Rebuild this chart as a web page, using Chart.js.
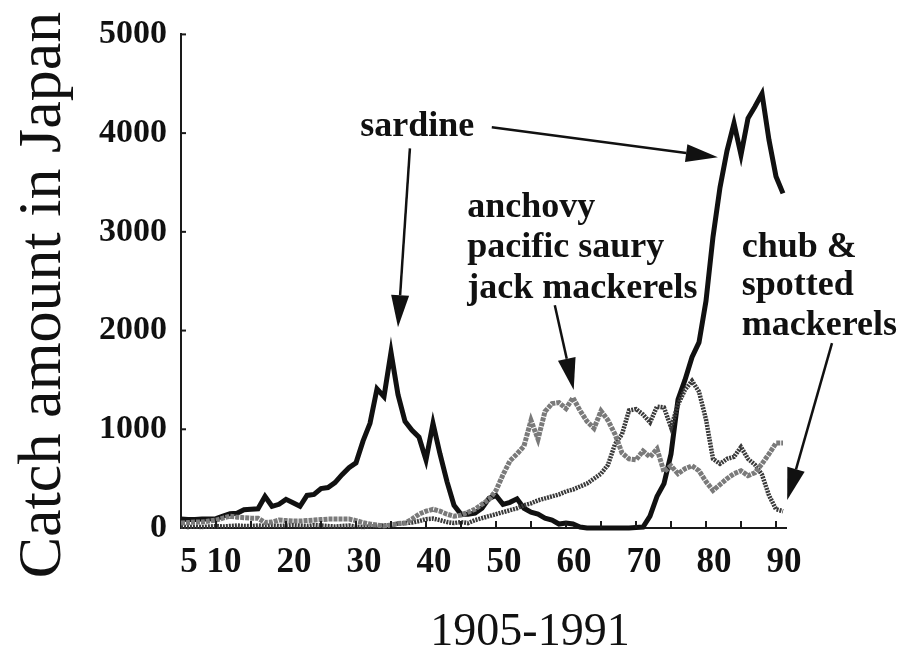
<!DOCTYPE html>
<html><head><meta charset="utf-8">
<script src="https://cdn.jsdelivr.net/npm/chart.js@4.4.1/dist/chart.umd.min.js"></script>
<style>html,body{margin:0;padding:0;background:#fff;}#wrap{width:905px;height:652px;}</style>
</head><body><div id="wrap"><canvas id="c" width="905" height="652"></canvas></div>
<script>
// ---- data (thousand tons), years 1905..1991 ----
const firstYear = 1905;
const sardine = [
  90, 85, 85, 90, 90, 95, 120, 145, 150, 185,      // 1905-1914
  190, 195, 320, 220, 240, 290, 255, 220, 330, 340, // 1915-1924
  400, 410, 460, 540, 610, 660, 880, 1060, 1410, 1330, // 1925-1934
  1780, 1350, 1080, 990, 920, 690, 1060, 750, 470, 230, // 1935-1944
  140, 140, 150, 200, 300, 330, 240, 260, 295, 200,  // 1945-1954
  160, 140, 100, 80, 40, 50, 40, 10, 0, 0,           // 1955-1964
  0, 0, 0, 0, 0, 5, 10, 120, 320, 450,               // 1965-1974
  750, 1300, 1500, 1730, 1880, 2300, 2950, 3450, 3820, 4100, // 1975-1984
  3780, 4150, 4270, 4400, 3930, 3560, 3390           // 1985-1991
];
const anchovySauryJack = [
  50, 55, 60, 60, 70, 80, 100, 120, 110, 105,
  100, 100, 55, 60, 80, 75, 70, 70, 75, 80,
  85, 90, 90, 90, 90, 75, 55, 40, 30, 20,
  30, 45, 50, 90, 140, 170, 190, 170, 140, 120,
  130, 160, 190, 240, 290, 380, 540, 680, 750, 830,
  1090, 900, 1180, 1260, 1270, 1210, 1320, 1190, 1080, 1010,
  1185, 1090, 950, 760, 700, 690, 780, 720, 800, 570,
  630, 550, 600, 630, 580, 470, 380, 440, 500, 550,
  580, 530, 560, 650, 750, 860, 860
];
const chubSpotted = [
  15, 10, 15, 10, 15, 20, 15, 20, 25, 20,
  20, 25, 20, 25, 20, 25, 30, 25, 20, 30,
  25, 20, 15, 20, 25, 15, 10, 15, 20, 25,
  30, 45, 50, 55, 70, 90, 95, 80, 60, 50,
  60, 50, 80, 100, 120, 140, 160, 180, 200, 230,
  250, 280, 300, 320, 340, 370, 390, 420, 450, 500,
  550, 640, 850, 950, 1190, 1205, 1150, 1070, 1230, 1220,
  1020, 1250, 1400, 1490, 1380, 1100, 700, 650, 700, 720,
  820, 700, 640, 540, 330, 190, 170
];
const xTickValues = [1905, 1910, 1915, 1920, 1925, 1930, 1935, 1940, 1945, 1950, 1955, 1960, 1965, 1970, 1975, 1980, 1985, 1990];
const xTickLabels = {1905:'5', 1910:'10', 1920:'20', 1930:'30', 1940:'40', 1950:'50', 1960:'60', 1970:'70', 1980:'80', 1990:'90'};
const yTickValues = [0, 1000, 2000, 3000, 4000, 5000];
const yTitle = 'Catch amount in Japan';
const xTitle = '1905-1991';

// annotation text (anchored in data units: year, value = left/baseline)
const annotationTexts = [
  {text: 'sardine', year: 1930.6, value: 3968},
  {text: 'anchovy', year: 1945.9, value: 3148},
  {text: 'pacific saury', year: 1945.9, value: 2743},
  {text: 'jack mackerels', year: 1945.9, value: 2328},
  {text: 'chub &', year: 1985.1, value: 2743},
  {text: 'spotted', year: 1985.1, value: 2358},
  {text: 'mackerels', year: 1985.1, value: 1953}
];
const annotationArrows = [
  {from: [1937.7, 3846], to: [1936.0, 2034]},
  {from: [1949.4, 4059], to: [1981.7, 3755]},
  {from: [1958.4, 2257], to: [1961.1, 1397]},
  {from: [1998.0, 1872], to: [1991.6, 283]}
];

const toPoints = arr => arr.map((v, i) => ({x: firstYear + i, y: v}));
const SERIF = "'Liberation Serif', 'Times New Roman', serif";

const decorPlugin = {
  id: 'decor',
  afterDraw(chart) {
    const ctx = chart.ctx, xs = chart.scales.x, ys = chart.scales.y, ca = chart.chartArea;
    ctx.save();
    // inside tick marks
    ctx.strokeStyle = '#1a1a1a'; ctx.lineWidth = 2;
    xTickValues.forEach(v => {
      if (v <= firstYear) return;
      const px = xs.getPixelForValue(v);
      ctx.beginPath(); ctx.moveTo(px, ca.bottom); ctx.lineTo(px, ca.bottom - 7); ctx.stroke();
    });
    yTickValues.forEach(v => {
      if (v === 0) return;
      const py = ys.getPixelForValue(v);
      ctx.beginPath(); ctx.moveTo(ca.left, py); ctx.lineTo(ca.left + 5, py); ctx.stroke();
    });
    // axis titles
    ctx.fillStyle = '#111';
    ctx.font = '62px ' + SERIF;
    ctx.textAlign = 'center'; ctx.textBaseline = 'alphabetic';
    ctx.save();
    ctx.translate(60, 295); ctx.rotate(-Math.PI / 2);
    ctx.fillText(yTitle, 0, 0);
    ctx.restore();
    ctx.font = '46px ' + SERIF;
    ctx.fillText(xTitle, 530, 645);
    // annotation texts
    ctx.font = 'bold 36px ' + SERIF;
    ctx.textAlign = 'left';
    annotationTexts.forEach(a => {
      ctx.fillText(a.text, xs.getPixelForValue(a.year), ys.getPixelForValue(a.value));
    });
    // arrows
    ctx.strokeStyle = '#111'; ctx.fillStyle = '#111'; ctx.lineWidth = 2.5;
    annotationArrows.forEach(a => {
      const x1 = xs.getPixelForValue(a.from[0]), y1 = ys.getPixelForValue(a.from[1]);
      const x2 = xs.getPixelForValue(a.to[0]), y2 = ys.getPixelForValue(a.to[1]);
      const ang = Math.atan2(y2 - y1, x2 - x1);
      const L = 32, W = 9;
      const bx = x2 - L * Math.cos(ang), by = y2 - L * Math.sin(ang);
      ctx.beginPath(); ctx.moveTo(x1, y1); ctx.lineTo(bx, by); ctx.stroke();
      ctx.beginPath();
      ctx.moveTo(x2, y2);
      ctx.lineTo(bx + W * Math.sin(ang), by - W * Math.cos(ang));
      ctx.lineTo(bx - W * Math.sin(ang), by + W * Math.cos(ang));
      ctx.closePath(); ctx.fill();
    });
    ctx.restore();
  }
};

new Chart(document.getElementById('c'), {
  type: 'line',
  data: {
    datasets: [
      {label: 'anchovy / pacific saury / jack mackerels', data: toPoints(anchovySauryJack),
       borderColor: '#7a7a7a', borderWidth: 5, borderDash: [4, 1], pointRadius: 0, tension: 0, clip: false},
      {label: 'chub & spotted mackerels', data: toPoints(chubSpotted),
       borderColor: '#3a3a3a', borderWidth: 4.5, borderDash: [2, 1], pointRadius: 0, tension: 0, clip: false},
      {label: 'sardine', data: toPoints(sardine),
       borderColor: '#111', borderWidth: 5, pointRadius: 0, tension: 0, clip: false}
    ]
  },
  options: {
    responsive: false, animation: false, devicePixelRatio: 1,
    layout: {padding: {top: 34, right: 118.5, left: 0, bottom: 0}},
    plugins: {legend: {display: false}, tooltip: {enabled: false}},
    scales: {
      x: {
        type: 'linear', min: 1905, max: 1991.5,
        afterFit: s => { s.height = 124; },
        afterBuildTicks: s => { s.ticks = xTickValues.map(v => ({value: v})); },
        grid: {display: false, drawTicks: false},
        border: {display: true, color: '#1a1a1a', width: 2},
        ticks: {
          autoSkip: false, maxRotation: 0, padding: 14, labelOffset: 8,
          color: '#111', font: {family: SERIF, size: 35, weight: 'bold'},
          callback: v => xTickLabels[v] || ''
        }
      },
      y: {
        min: 0, max: 5000,
        afterFit: s => { s.width = 181; },
        grid: {display: false, drawTicks: false},
        border: {display: true, color: '#1a1a1a', width: 2},
        ticks: {
          stepSize: 1000, padding: 14,
          color: '#111', font: {family: SERIF, size: 34, weight: 'bold'},
          callback: v => yTickValues.includes(v) ? String(v) : ''
        }
      }
    }
  },
  plugins: [decorPlugin]
});
</script>
</body></html>
